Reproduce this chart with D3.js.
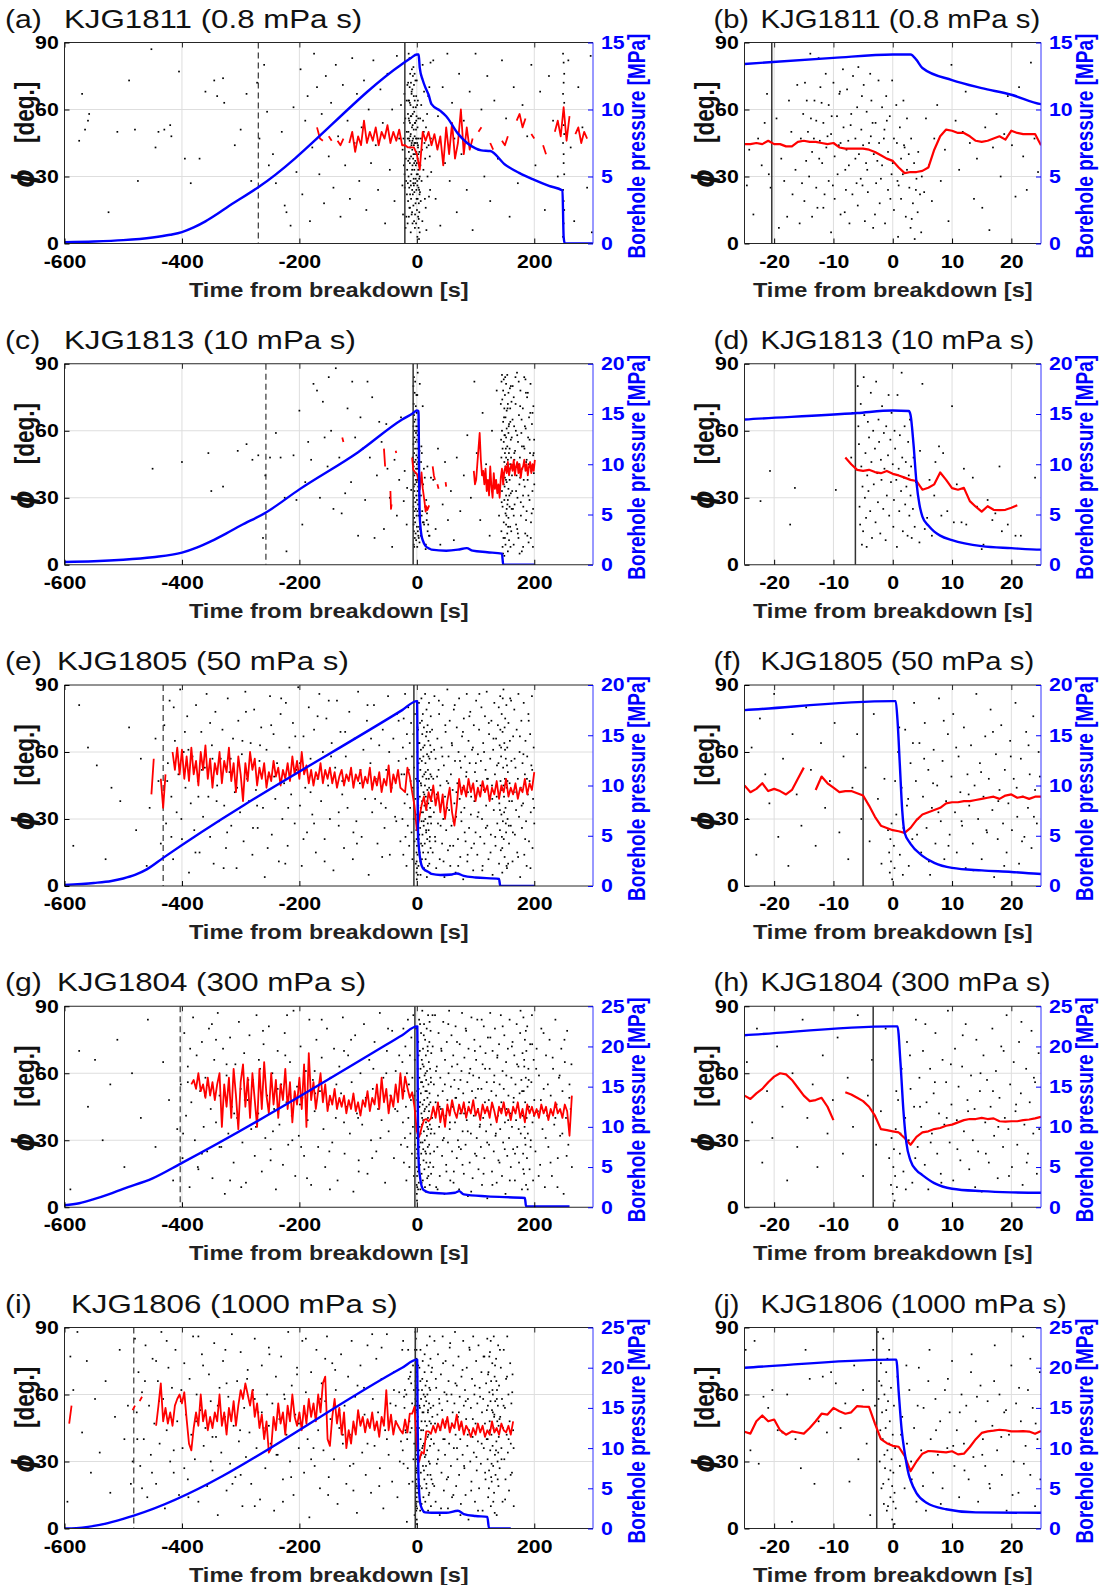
<!DOCTYPE html>
<html><head><meta charset="utf-8">
<script src="https://cdn.jsdelivr.net/npm/d3@7"></script>
<style>
body{margin:0;background:#fff}
text{font-family:"Liberation Sans",Arial,sans-serif}
</style></head><body>
<script>
// ---------- data ----------
const letters = [["a","b"],["c","d"],["e","f"],["g","h"],["i","j"]];
const wells = ["KJG1811","KJG1813","KJG1805","KJG1804","KJG1806"];
const viscosity = ["0.8","10","50","300","1000"];
const pressureMax = [15,20,20,25,25];
const breakdownLine = [-20.4,-6.3,-5,-3.3,-2.7];   // solid black line [s]
const dashedLine = [-270,-257,-432,-403,-482];     // dashed black line [s]
const longTicks = [-600,-400,-200,0,200];
const zoomTicks = [-20,-10,0,10,20];
const phiTicks = [0,30,60,90];

// borehole pressure [t, MPa]
const pressA = [[-600,0.1],[-550,0.15],[-500,0.25],[-450,0.45],[-420,0.65],[-400,0.85],[-380,1.2],[-360,1.65],[-340,2.2],[-320,2.8],[-300,3.35],[-270,4.2],[-25,13.4],[-10,13.85],[0,14.1],[3,14.1],[4,13.7],[5,13.1],[10,12.2],[15,11.6],[20,11.1],[25,10.4],[40,9.9],[50,9.5],[70,8.2],[100,7.1],[110,6.95],[125,6.9],[150,5.9],[175,5.25],[200,4.75],[225,4.3],[248,3.95],[250,0.5],[252,0],[300,0]];
const pressC = [[-600,0.28],[-550,0.35],[-500,0.5],[-450,0.75],[-400,1.2],[-375,1.7],[-350,2.35],[-325,3.1],[-300,3.9],[-257,5.2],[-200,7.5],[-100,11.2],[-25,14.45],[-6,15.1],[0,15.35],[2.7,15.3],[3,14.9],[3.5,12],[4,8.2],[4.5,6],[5,4.8],[6,3.9],[7,3.3],[8,2.9],[10,2.45],[15,1.85],[20,1.65],[25,1.5],[50,1.4],[70,1.5],[85,1.65],[95,1.4],[120,1.25],[145,1.1],[147,0.05],[150,0],[200,0]];
const pressE = [[-600,0.1],[-550,0.3],[-520,0.5],[-500,0.75],[-480,1.1],[-460,1.65],[-432,2.8],[-25,17.5],[0,18.4],[0.5,18.4],[0.8,16.5],[1.2,12],[1.6,7.5],[2,5.3],[3,4.2],[5,3.0],[7,2.3],[10,1.8],[15,1.55],[20,1.4],[25,1.2],[40,1.1],[60,1.15],[68,1.25],[80,1.0],[100,0.85],[140,0.7],[142,0],[200,0]];
const pressG = [[-600,0.25],[-575,0.5],[-550,1.0],[-525,1.6],[-500,2.3],[-450,3.6],[-403,5.4],[-25,21.4],[0,22.5],[0.8,22.5],[1.3,18],[1.8,12],[2.3,8],[3,5.8],[4,4.6],[5,4.0],[7,3.0],[10,2.3],[15,2.0],[20,1.85],[25,1.8],[50,1.7],[65,1.8],[72,2.0],[80,1.6],[120,1.35],[184,1.15],[186,0.1],[260,0.1]];
const pressI = [[-600,0],[-580,0.05],[-560,0.2],[-540,0.45],[-520,0.8],[-500,1.2],[-482,1.6],[-25,20.0],[0,21.0],[0.6,21.0],[1,17],[1.5,12.3],[2,9.5],[2.7,6.7],[3,6],[4,4.4],[5.7,3.2],[9,2.4],[14,2.0],[25,1.95],[50,1.95],[70,2.2],[80,1.8],[100,1.55],[120,1.45],[123,0],[160,0]];

// phi, long time window (left panels); A/E/G/I sampled on a fixed step
const phiLongA = [52,47,46,null,48,46,null,46,44,47, null,45,50,41,48,44,55,45,50,46, 52,44,50,47,53,45,50,46,51,44,
  44,43,43,43,40,33,50,46,50,44, 49,42,48,35,52,40,54,38,45,60, 40,52,42,47,null,50,52,null,null,45,
  42,null,null,46,44,48,null,null,55,58, 52,56,null,49,47,null,null,44,40,null, null,50,55,48,61,46,57,null,49,52, 45,50,47];
const phiLongC = [[-127,57],[-125,55],null,[-56,52],[-54,44],null,[-45,33],[-44,25],[-43,27],null,[-36,51],[-35,50],null,
  [-8,48],[-6,42.5],[-3,41.5],[0,40.7],[3,38],[5,33.6],[8,41.3],[10,34.3],[13,28.5],[15,23.8],[16,26.2],[18,24.5],[21,26.6],null,
  [27,44],[29,40],[31,38],null,[35,36],[37,34],null,[49,37],[50,35],null,
  [97,42],[99,36],[101,38],[103,45],[105,52],[107,59],[109,47],[111,40],[113,42],[115,36],[117,43],[119,33],[121,38],[123,31],[125,44],
  [127,35],[129,30],[131,41],[133,34],[135,38],[137,32],[139,36],[141,30],[143,39],[145,43],[147,36],[149,42],[151,44],[153,41],[155,46],
  [157,40],[159,43],[161,45],[163,42],[165,47],[167,40],[169,44],[171,46],[173,41],[175,45],[177,39],[179,43],[181,44],[183,47],[185,42],
  [187,45],[189,40],[191,44],[193,46],[195,41],[197,45],[199,42],[201,47]];
const phiLongE = [41,57,null,null,48,35,50,null,null,60, 52,62,50,61,48,58,47,62,50,56, 45,60,52,63,48,57,44,55,50,60,
  46,56,51,62,47,55,42,58,50,38, 55,47,60,52,57,45,53,48,55,44, 51,47,56,49,53,45,52,48,55,47,
  58,50,56,48,60,50,54,46,52,45, 51,48,55,46,52,48,53,46,51,44, 49,52,45,50,47,53,44,50,47,52,
  44,49,46,53,43,49,45,51,42,48, 45,54,42,50,46,52,44,43,42,53, 49,42,36,25,30,36,40,34,42,38,
  45,36,42,33,41,30,38,44,33,27, 36,48,41,45,40,48,42,46,38,44, 40,47,42,45,38,44,41,47,39,45,
  42,48,40,44,41,46,39,44,42,48, 41,46,43,51];
const phiLongG = [55,57,53,60,52,55,49,58,50,56, 48,55,60,36,55,45,58,40,62,50, 35,56,64,45,58,40,60,48,36,62,
  44,65,50,42,60,46,57,40,55,48, 62,44,56,38,52,46,58,44,64,36, 69,48,56,44,52,60,47,55,43,50,
  46,53,44,49,45,50,42,48,44,51, 43,47,41,48,45,52,43,49,46,55, 44,58,47,53,42,50,45,55,47,60,
  48.5,58.5,53.5,49,51.5,45,34,31.5,35.5,39, 39.5,38.5,39.8,45,40,47,38,44,36,46, 41,48,43,40,46,42,47,40,45,42,
  48,41,44,39,46,42,45,40,47,43, 38,45,42,47,41,44,39,45,42,47, 40,44,38,46,42,45,41,44,40,46,
  42,45,39,44,41,47,42,44,40,46, 43,32,50];
const phiLongI = [47,55,null,null,null,null,null,null,null,null, null,null,null,null,null,null,null,null,null,null,
  null,null,null,null,null,null,null,53,55,null, 57,59,null,null,null,null,null,46,55,65,
  48,54,47,52,46,55,58,60,56,61, 49,38,35,45,52,46,60,48,53,44, 50,45,52,48,60,46,52,42,54,48,
  57,46,55,62,58,65,60,55,62,50, 56,45,51,40,48,34,36,50,44,56, 47,52,42,55,48,60,50,46,52,44,
  55,47,58,50,56,48,60,52,65,68, 40,37,50,58,47,54,42,52,36,44, 38,48,42,53,46,50,43,49,45,52,
  44,48,41,50,46,62,44,51,42,48, 46,44,42.5,48.8,43,51.4,51.4,54.5,37,30, 34.3,33.5,43.5,43.5,42.4,46,43,47,44,49,
  45,50,43,47,45,51,44,48,42,46, 44,41,45,42,47,43,46,41,44,42, 48,43,45,42,47,44,43,46,42,48];
const phiLongStart = [-170,null,-452,-384,-592];
const phiLongStep = [5,null,4,4,4];

// phi, zoom window (right panels), 1 s steps
const phiZoomA = [44.5,44.5,45,44.5,46,44.5,44.5,43.5,43.5,45.5, 46,45.5,45.5,45,44.5,45,43,42.5,42.5,42.5,
  42.5,42,41,39.5,38,37,34,31.5,32,32, 32.5,34,42,48,51,50.5,49.5,49.5,48,46, 45.5,46,47,48,46.5,50.5,49.5,49,49,49, 44];
const phiZoomC = [48,45,42.5,42,42.5,41.5,41,42,40.7,40, 39,38,37.5,33.6,34.5,36,41.3,38,34.3,33.6, 34.4,28.5,26,23.8,26.2,24.6,24.5,24.6,25.5,26.6];
const phiZoomE = [45,42,43.5,46,42.5,43.5,42.5,41,43,48, 53,null,43,49,46,44,42,42.5,42.5,41.5,
  40.5,36,31,27,26,25,24.5,23.8,26,29.5, 32,33,34,35,37,37.5,37.5,38,38,38.5, 39,39.5,40,39,40.5,41,39.5,40,39,40, 40];
const phiZoomG = [50,48.5,51,53,56,58.5,60,59.5,57,53.5, 50,47.5,48,49,45,39,null,51.5,50.5,49,
  47.5,45,41,35,34.5,34,33.5,31,28,31.5, 33.5,34,35,35.5,36.5,37,38,39,39.5,39.5, 40,39.5,39.8,38.5,38.3,38.5,38.5,39,39.3,39.8, 40.5];
const phiZoomI = [43.3,42.5,48,50.6,48,48.8,44,42,43.5,43, 42.5,45,48,51.4,51,54,52.5,51.4,52,54.8,
  54.6,54.5,47,40,38.2,37,36.6,32.5,25.7,30, 33.5,34.7,34.5,34.3,34.1,34.6,33.2,33.5,36.5,40, 42.8,43.5,43.8,44.2,44,43.5,43.5,43.6,43.4,42.4, 43.6];
const phiZoomStart = [-25,-8,-25,-25,-25];

// event dots, flat t,phi pairs
const dotsA = [-575,46,-570,67,-565,51,-560,55,-558,58,-525,14,-510,50,-490,73,-480,51,-475,28,-452,87,-445,43,-440,50,-430,51,-420,53,-418,48,-405,77,-395,38,-385,27,-370,38,-360,68,-345,73,-340,66,-330,74,-328,63,-310,44,-300,51,-290,67,-282,28,-272,72,-268,47,-260,80,-255,59,-252,35,-245,40,-240,27,-230,50,-225,17,-222,14,-215,8,-210,61,-205,32,
  -198,78,-195,22,-190,55,-186,66,-182,10,-178,43,-175,85,-170,70,-166,31,-162,58,-158,18,-155,75,-150,39,-146,63,-142,25,-138,80,-134,48,-130,12,-126,71,-122,35,-118,55,-114,20,-110,83,-106,45,-102,67,-98,28,-94,52,-90,73,-86,15,-82,60,-78,36,-74,82,-70,44,-66,24,-62,69,-58,54,-54,9,-50,76,-46,33,-42,60,-38,19,-34,84,-30,47,-27,62,
  -24.6,26,-24.2,42,-23.5,13,-22.7,47,-22.1,35,-21.6,54,-21.2,67,-20.9,31,-20.6,25,-19.6,56,-19.2,7,-18.8,38,-18.3,28,-17.8,12,-17.5,64,-17.1,50,-16.9,22,
  -16.4,33,-16.1,71,-15.7,9,-15.5,47,-15.1,58,-14.9,19,-14.8,72,-14.3,50,-14.1,30,-13.9,85,-13.6,41,-13.6,12,-13.2,64,-12.9,55,-12.9,25,-12.5,83,-12.3,46,-12.2,70,-11.9,36,-11.7,16,-11.7,54,-11.3,76,-11.2,43,-10.8,28,-10.8,62,-10.4,5,-10.4,49,-10,72,-9.8,39,-9.8,20,-9.4,57,-9.3,31,-9,67,-8.8,45,-8.8,13,-8.4,78,-8.3,52,-7.9,24,-7.8,42,-7.7,69,-7.4,35,-7.3,9,-7,58,-6.8,22,-6.7,75,-6.3,47,-6.3,38,-6,61,-5.9,17,-5.8,79,-5.4,29,-5.3,51,-5,44,-4.9,71,-4.7,10,-4.4,59,-4.3,33,-4.2,23,-3.8,76,-3.7,48,-3.6,64,-3.3,7,-3.2,40,-2.9,54,-2.8,27,-2.4,73,-2.3,45,-2.2,18,-1.8,61,-1.8,35,-1.4,51,-1.3,9,-1.1,66,-0.8,41,-0.8,24,-0.5,57,-0.2,31,-0.1,73,0.2,15,0.2,47,0.6,62,0.8,28,0.9,3,1.2,52,1.4,38,1.4,20,1.8,64,1.9,44,2.2,12,2.4,33,2.4,56,2.8,25,3,7,3.1,47,3.4,18,3.6,36,3.7,2,4,29,4.2,14,4.3,41,4.6,22,4.8,5,4.9,30,
  -14.6,37,-13.8,56,-12.7,16,-12,63,-11,48,-10.1,26,-8.9,68,-8.1,14,-7.1,53,-5.7,40,-5.1,26,-4,45,-3,13,-2,29,-1,55,0,36,1,26,2,43,3.2,11,-15.3,27,-14.5,64,-13.3,47,-12.4,38,-11.5,22,-10.3,57,-9.1,44,-8,33,-7.5,46,-6.1,27,-5.2,66,-4.5,36,-3.4,54,-2.6,37,-1.5,47,-0.4,20,0.7,45,1.7,31,2.7,40,3.9,24,
  5.3,23,5.6,56,6.1,35,6.6,19,7,47,7.5,62,8.1,28,8.8,42,9.4,10,9.9,80,10.6,55,11.2,33,11.8,50,12.3,68,13,45,13.7,20,14.2,38,15.1,16,15.6,52,16.3,6,16.9,43,17.5,58,18.2,30,18.8,49,19.4,66,20.1,44,20.7,21,21.3,70,22,39,22.6,24,23.3,81,23.9,47,24.5,32,
  28,82,32,20,36,57,40,8,44,70,48,36,52,85,56,28,60,63,64,47,68,14,72,76,76,40,80,55,85,24,90,68,95,6,100,85,105,42,110,60,115,30,120,75,125,19,132,64,138,38,145,82,152,56,158,12,165,70,172,27,180,62,188,48,195,80,202,35,210,68,218,15,225,75,232,55,240,30,258,82,262,43,268,10,275,70,282,52,290,25,296,84,298,5,
  249,3,250,9,251,15,250,19,249,24,251,31,250,36,250,40,249,45,251,49,250,53,250,58,251,63,249,67,250,72,251,76,250,81,249,85];
const dotsC = [-450,43,-400,46,-355,50,-350,33,-330,35,-305,51,-290,54,-280,47,-270,49,-262,12,-258,40,-250,48,-240,59,-232,48,-225,30,-222,6,-210,49,-205,29,
  -200,69,-195,18,-190,37,-185,55,-180,47,-176,81,-170,78,-165,30,-160,73,-157,57,-152,44,-150,84,-146,60,-142,25,-138,88,-132,48,-128,23,-122,32,-118,70,-112,37,-110,82,-105,57,-100,13,-96,66,-92,52,-88,29,-84,82,-80,48,-76,75,-72,12,-68,40,-64,64,-60,55,-56,16,-52,63,-50,43,-46,30,-42,8,-38,47,-34,22,-30,38,-27,66,
  -22.3,28.5,-20.7,42,-17.3,18,-16.5,34.4,-9.6,33.5,-7,48,-6.8,68,
  -5.9,80,-5.8,62,-5.7,54,-5.6,26,-5.5,18,-5.4,72,-5.3,44,-5.2,9,-5.1,35,-5,15,-4.9,84,-4.8,67,-4.7,30,-4.6,50,-4.5,21,-4.4,8,-4.3,40,-4.2,64,-4.1,33,-4,57,-3.8,24,-3.7,77,-3.6,46,-3.5,12,-3.3,60,-3.2,36,-3,52,-2.9,19,-2.8,82,-2.6,41,-2.5,28,-2.4,65,-2.3,55,-2.1,14,-2,47,-1.9,38,-1.8,71,-1.6,25,-1.5,59,-1.4,43,-1.2,11,-1.1,62,-1,31,-0.8,49,-0.7,76,-0.6,22,-0.4,56,-0.3,37,-0.2,68,0,45,0.1,17,0.2,29,0.3,60,0.4,52,0.6,38,0.7,8,0.8,76,1,43,1.1,24,1.2,58,1.4,33,1.5,86,1.6,48,1.7,15,1.9,39,2,62,2.1,27,2.2,46,2.3,35,2.5,13,2.6,55,2.7,40,2.8,22,2.9,65,3,31,3.1,44,3.2,12,3.4,25,3.5,48,3.7,17,3.9,37,
  4.5,10,4.6,51,5,81,5.4,16,5.8,21,6.2,38,6.6,13,7,31,7.2,46,7.8,53,8.2,22,8.5,50,9.2,24,10,71,10.3,19,10.8,36,11.6,19,12,43,12.4,18,13.5,39,14.2,26,15,7,15.3,9,16,29,16.8,20,17.3,23,18,44,18.4,15,19.4,18,20.7,13,21.6,13,24,39,
  28,38,32,16,36,52,40,9,44,27,48,46,53,20,58,33,63,11,68,48,74,24,80,40,86,58,92,30,98,82,102,50,108,20,112,68,118,45,124,13,128,60,132,35,136,78,140,22,
  143,72,144,15,144,48,145,85,145,33,145,60,146,8,146,52,146,26,147,78,147,41,147,64,148,19,148,55,148,36,148,83,149,4,149,46,149,70,149,29,150,58,150,12,150,39,150,76,150,50,151,23,151,66,151,44,151,9,152,81,152,31,152,57,152,18,152,48,153,69,153,37,153,25,153,61,154,14,154,53,154,42,154,85,155,29,155,72,155,6,155,47,156,59,156,34,156,21,156,77,157,43,157,11,157,63,158,38,158,52,158,26,159,70,159,17,159,45,160,56,160,32,160,80,
  143.5,56,144.5,28,145.5,74,146.5,40,147.5,12,148.5,66,149.5,35,150.5,84,151.5,52,152.5,22,153.5,45,154.5,70,155.5,17,156.5,62,157.5,31,158.5,79,159.5,8,160.5,48,161.5,25,144.2,82,146.8,5,149.2,58,151.8,38,154.2,27,156.8,50,159.2,64,
  162,40,163,65,165,22,166,50,168,84,169,33,171,58,172,14,174,45,176,71,177,28,179,53,181,8,182,38,184,62,186,20,187,47,189,77,190,31,192,56,194,12,195,42,197,68,198,25,199,50,200,36,185,83,175,5,165,75,
  160.8,15,161.6,57,162.4,33,163.2,80,164.1,44,164.9,9,165.7,62,166.5,27,167.3,51,168.2,72,169,18,169.8,40,170.6,86,171.4,30,172.3,55,173.1,12,173.9,67,174.7,36,175.5,48,176.4,78,177.2,22,178,59,178.8,6,179.6,43,180.5,70,181.3,26,182.1,53,182.9,84,183.7,35,184.6,14,185.4,61,186.2,46,187,24,187.8,75,188.7,38,189.5,57,190.3,10,191.1,66,191.9,29,192.8,50,193.6,81,194.4,19,195.2,44,196,63,196.9,33,197.7,8,198.5,71,199.3,41,199.8,56,161.2,73,163.7,25,166.1,47,168.6,60,171,16,173.5,82,175.9,39,178.4,65,180.9,31,183.3,52,185.8,77,188.2,13,190.7,45,193.2,68,195.6,23,198.1,49];
const dotsE = [-585,18,-575,81,-560,62,-545,54,-530,12,-520,44,-505,38,-490,71,-478,25,-470,57,-460,9,-455,35,-445,66,-440,47,-436,19,
  -430,72,-427,28,-424,55,-421,83,-418,40,-415,12,-412,65,-409,33,-406,50,-403,88,-400,21,-397,60,-394,44,-391,76,-388,6,-385,37,-382,58,-379,25,-376,81,-373,47,-370,15,-367,69,-364,31,-361,53,-358,86,-355,40,-352,22,-349,63,-346,10,-343,78,-340,45,-337,29,-334,57,-331,70,-328,36,-325,17,-322,84,-319,51,-316,27,-313,66,-310,42,-307,8,-304,74,-301,33,-298,59,-295,20,-292,87,-289,48,-286,38,-283,64,-280,14,-277,79,-274,43,-271,26,-268,56,-265,71,-262,35,-259,4,-256,61,-253,49,-250,85,-247,23,-244,68,-241,39,-238,55,-235,11,-232,77,-229,30,-226,46,-223,82,-220,18,-217,62,-214,41,-211,73,-208,28,-205,52,-202,89,-199,36,-196,9,-193,67,-190,44,-187,24,-184,80,-181,57,-178,32,-175,70,-172,15,-169,48,-166,86,-163,38,-160,60,-157,21,-154,75,-151,45,-148,30,-145,64,-142,7,-139,53,-136,83,-133,27,-130,69,-127,41,-124,17,-121,58,-118,35,-115,78,-112,50,-109,12,-106,66,-103,29,-100,87,-97,46,-94,22,-91,61,-88,39,-85,74,-82,5,-79,55,-76,33,-73,81,-70,48,-67,19,-64,63,-61,37,-58,70,-55,26,-52,52,-49,85,-46,14,-43,44,-40,66,-37,31,-34,77,-31,56,-28,20,
  -425,47,-414,80,-401,30,-389,61,-377,15,-366,52,-352,73,-341,38,-329,8,-317,57,-306,44,-291,78,-279,26,-267,63,-254,17,-243,49,-231,84,-219,35,-207,67,-193,21,-181,42,-169,76,-157,11,-146,58,-133,33,-122,69,-108,24,-96,52,-84,81,-71,39,-59,13,-47,60,-35,29,-26,50,-418,22,-395,69,-372,40,-348,57,-323,24,-297,65,-272,36,-248,72,-224,10,-199,55,-175,28,-150,83,-127,47,-102,19,-78,66,-53,35,-31,74,
  -24.5,30,-23.8,62,-23,14,-22.4,75,-21.5,50,-20.8,37,-20,86,-19.3,22,-18.5,57,-17.6,9,-16.9,68,-16.2,41,-15.4,27,-14.6,80,-13.8,52,-13,18,-12.1,64,-11.4,35,-10.6,47,-9.8,73,-9,24,-8.3,58,-7.5,12,-6.8,44,-6,68,-5.3,30,-4.6,53,-3.9,20,-3.2,77,-2.5,39,-1.9,10,-1.4,48,-0.8,25,-0.6,15,-0.5,6,-0.4,21,-0.3,11,-0.2,28,-0.1,3,0.2,18,0.3,8,0.6,32,0.9,60,1.2,14,1.5,44,1.8,26,2.1,70,2.4,36,2.7,9,3,55,3.3,21,3.6,82,3.9,47,4.2,30,4.5,64,4.8,15,5.1,40,5.4,73,5.7,26,6,52,6.3,5,6.6,35,6.9,61,7.2,19,7.5,45,7.8,84,8.1,29,8.4,56,8.7,12,9,38,9.3,68,9.6,23,9.9,49,10.2,77,10.5,33,10.8,15,11.1,58,11.4,42,11.7,27,12,71,12.3,8,12.6,50,12.9,36,13.2,63,13.5,19,13.8,45,14.1,86,14.4,30,14.7,55,15,12,15.3,40,15.6,67,15.9,24,16.2,48,16.5,79,16.8,34,17.1,4,17.4,59,17.7,21,18,43,18.3,72,18.6,28,18.9,52,19.2,15,19.5,37,19.8,65,20.1,25,20.4,48,20.7,82,21,31,21.3,10,21.6,57,21.9,40,22.2,22,22.5,69,22.8,35,23.1,50,23.4,17,23.7,76,24,43,24.3,28,24.6,60,
  0.4,47,1.1,71,1.7,5,2.6,39,3.4,64,4.1,23,5.3,57,6.1,11,6.8,46,7.7,33,8.6,74,9.4,18,10.7,62,11.6,29,12.8,41,13.6,7,14.9,51,15.8,25,16.9,69,17.8,38,18.8,9,19.9,58,20.9,44,21.8,20,22.9,63,23.8,31,24.8,49,
  26,70,27,15,28,48,29,33,30,85,31,22,32,57,33,8,34,41,35,66,36,28,37,52,38,77,39,12,40,45,41,36,42,62,43,19,44,81,45,30,46,54,47,4,48,40,49,69,50,25,51,47,52,88,53,16,54,58,55,34,56,74,57,9,58,50,59,27,60,63,61,43,62,18,63,79,64,37,65,56,66,6,67,31,68,71,69,46,70,21,71,60,72,84,73,39,74,13,75,53,76,29,77,67,78,44,79,3,80,75,81,35,82,58,83,20,84,49,85,86,86,11,87,42,88,65,89,26,90,55,91,78,92,32,93,17,94,61,95,45,96,7,97,72,98,38,99,51,100,24,101,83,102,47,103,14,104,59,105,33,106,70,107,41,108,22,109,56,110,80,111,30,112,9,113,64,114,43,115,19,116,76,117,52,118,36,119,87,120,27,121,48,122,12,123,68,124,39,125,57,126,23,127,74,128,45,129,5,130,61,131,34,132,82,133,50,134,18,135,66,136,40,137,28,138,72,139,55,140,10,140.5,37,141,63,141.5,25,142,85,142.5,47,143,16,143.5,58,144,32,144.5,77,145,43,145.5,6,146,69,146.5,29,147,53,147.5,88,148,21,148.5,40,149,64,149.5,13,150,48,150.5,75,151,35,151.5,57,152,24,152.5,81,153,44,153.5,8,154,62,154.5,30,155,51,156,73,157,19,158,46,159,84,160,27,161,56,162,38,163,11,164,67,165,42,166,79,167,23,168,53,169,34,170,70,171,15,172,48,173,86,174,31,175,60,176,4,177,44,178,74,179,26,180,55,181,37,182,82,183,14,184,50,185,65,186,29,187,9,188,58,189,41,190,77,191,20,192,47,193,68,194,33,195,54,196,85,197,17,198,39,199,62,200,28,
  25.5,38,29.5,61,31.5,20,34.5,49,37.5,83,40.5,27,43.5,58,45.5,11,48.5,72,51.5,35,53.5,46,56.5,18,59.5,64,62.5,29,64.5,81,67.5,42,70.5,9,73.5,56,75.5,33,78.5,69,81.5,24,84.5,51,86.5,14,89.5,76,92.5,40,95.5,62,97.5,19,100.5,55,103.5,31,106.5,86,108.5,45,111.5,7,114.5,60,117.5,26,119.5,48,122.5,73,125.5,15,128.5,39,130.5,66,133.5,22,136.5,54,139.5,80,141.5,34,143.5,62,145.5,17,147.5,45,149.5,71,151.5,28,153.5,54,155.5,10,157.5,38,160.5,83,163.5,24,166.5,57,169.5,42,172.5,13,175.5,67,178.5,36,181.5,59,184.5,21,187.5,48,190.5,74,193.5,8,196.5,52,199.5,35,142.2,70,144.8,22,146.3,84,148.7,33,150.2,61,152.8,9,154.3,47,156.6,27,158.4,65];
const dotsG = [-590,8,-575,70,-560,45,-548,66,-535,30,-522,55,-510,75,-498,18,-485,60,-470,40,-458,84,-445,27,-432,65,-422,48,-415,12,-408,35,
  -402,55,-399,22,-396,78,-393,41,-390,63,-387,9,-384,47,-381,85,-378,30,-375,68,-372,17,-369,52,-366,74,-363,36,-360,58,-357,25,-354,80,-351,44,-348,13,-345,66,-342,38,-339,87,-336,50,-333,27,-330,71,-327,6,-324,59,-321,33,-318,76,-315,45,-312,20,-309,64,-306,40,-303,83,-300,53,-297,29,-294,69,-291,11,-288,48,-285,77,-282,35,-279,57,-276,23,-273,86,-270,42,-267,62,-264,16,-261,73,-258,31,-255,50,-252,81,-249,26,-246,60,-243,44,-240,8,-237,70,-234,37,-231,55,-228,19,-225,78,-222,47,-219,28,-216,65,-213,41,-210,88,-207,14,-204,54,-201,32,-198,72,-195,49,-192,23,-189,61,-186,39,-183,84,-180,10,-177,57,-174,43,-171,75,-168,27,-165,52,-162,67,-159,35,-156,18,-153,80,-150,46,-147,58,-144,29,-141,71,-138,40,-135,12,-132,63,-129,51,-126,85,-123,24,-120,45,-117,68,-114,33,-111,56,-108,7,-105,77,-102,42,-99,21,-96,60,-93,37,-90,82,-87,48,-84,15,-81,66,-78,30,-75,53,-72,74,-69,25,-66,44,-63,87,-60,39,-57,58,-54,11,-51,70,-48,34,-45,50,-42,79,-39,22,-36,61,-33,43,-30,68,-27,28,
  -398,33,-386,71,-373,18,-361,50,-349,82,-336,27,-324,64,-311,42,-299,9,-287,57,-274,36,-262,79,-249,21,-237,53,-224,68,-212,30,-199,46,-187,13,-174,61,-162,84,-149,25,-137,55,-124,38,-112,75,-99,16,-87,49,-74,62,-62,31,-49,80,-37,44,-28,58,-390,56,-366,24,-342,75,-318,12,-293,48,-269,66,-245,34,-221,86,-197,27,-173,51,-148,8,-124,70,-100,40,-76,22,-52,60,
  -24.6,65,-23.7,38,-22.9,80,-22,20,-21.2,52,-20.3,31,-19.5,72,-18.6,45,-17.8,12,-16.9,60,-16.1,27,-15.2,84,-14.4,40,-13.5,55,-12.7,18,-11.8,68,-11,33,-10.1,48,-9.3,76,-8.4,24,-7.6,58,-6.7,36,-5.9,86,-5,14,-4.2,50,-3.5,66,-2.8,28,-2,43,-1.2,80,-0.6,22,-0.3,10,-0.2,31,0,6,0.1,18,0.2,26,0.3,3,0.4,14,0.5,35,0.7,9,0.9,48,1.2,24,1.5,62,1.8,16,2.1,40,2.4,74,2.7,30,3,53,3.3,11,3.6,45,3.9,84,4.2,27,4.5,58,4.8,36,5.1,70,5.4,19,5.7,47,6,8,6.3,62,6.6,33,6.9,51,7.2,78,7.5,24,7.8,42,8.1,15,8.4,66,8.7,37,9,56,9.3,88,9.6,29,9.9,46,10.2,12,10.5,71,10.8,39,11.1,54,11.4,21,11.7,63,12,34,12.3,82,12.6,48,12.9,17,13.2,59,13.5,30,13.8,44,14.1,75,14.4,25,14.7,52,15,7,15.3,68,15.6,38,15.9,57,16.2,20,16.5,45,16.8,80,17.1,32,17.4,61,17.7,13,18,49,18.3,72,18.6,27,18.9,40,19.2,86,19.5,35,19.8,55,20.1,18,20.4,65,20.7,43,21,28,21.3,74,21.6,51,21.9,10,22.2,37,22.5,62,22.8,24,23.1,47,23.4,79,23.7,33,24,56,24.3,15,24.6,69,
  0.6,52,1.3,33,2.2,8,2.9,68,3.8,22,4.6,45,5.5,82,6.4,29,7.1,56,8.2,11,9.1,40,9.8,64,10.9,26,11.8,77,12.7,43,13.9,9,14.8,60,15.7,24,16.9,52,17.8,36,18.7,70,19.6,14,20.8,46,21.7,83,22.6,20,23.8,58,24.7,35,
  26,40,27,72,28,18,29,55,30,33,31,86,32,47,33,9,34,63,35,27,36,50,37,78,38,36,39,14,40,58,41,44,42,70,43,23,44,52,45,83,46,31,47,6,48,66,49,41,50,19,51,74,52,48,53,29,54,60,55,88,56,35,57,12,58,54,59,77,60,25,61,45,62,68,63,16,64,57,65,38,66,81,67,49,68,22,69,64,70,30,71,53,72,8,73,73,74,42,75,26,76,61,77,87,78,34,79,51,80,15,81,67,82,44,83,28,84,79,85,39,86,56,87,5,88,71,89,47,90,20,91,62,92,33,93,85,94,52,95,13,96,59,97,41,98,75,99,24,100,49,101,66,102,31,103,84,104,44,105,17,106,58,107,36,108,72,109,27,110,53,111,10,112,64,113,40,114,81,115,22,116,47,117,69,118,34,119,56,120,4,121,76,122,43,123,28,124,62,125,87,126,37,127,52,128,16,129,70,130,45,131,25,132,59,133,80,134,32,135,50,136,11,137,67,138,41,139,21,140,73,141,55,142,35,143,86,144,47,145,14,146,61,147,29,148,53,149,77,150,38,151,6,152,65,153,44,154,23,155,71,156,50,157,31,158,84,159,42,160,18,161,58,162,36,163,74,164,26,165,49,166,68,167,12,168,55,169,39,170,82,171,27,172,46,173,63,174,20,175,51,176,78,177,33,178,57,179,8,180,69,180.5,41,181,24,181.5,85,182,52,182.5,15,183,63,183.5,36,184,75,184.5,47,185,28,185.5,58,186,10,186.5,70,187,40,187.5,22,188,81,188.5,54,189,33,190,62,191,45,192,17,193,73,194,30,195,56,196,86,197,38,198,12,199,66,200,48,202,25,204,71,206,43,208,59,210,19,212,80,214,35,216,53,218,9,220,68,222,41,224,27,226,75,228,50,230,14,232,62,234,37,236,84,238,46,240,22,242,58,244,32,246,71,248,52,250,6,252,65,254,40,256,79,258,28,260,55,262,44,264,18,
  26.7,86,29.4,25,32.6,61,35.3,8,38.8,45,41.5,71,44.2,30,47.7,55,50.4,16,53.6,82,56.3,38,59.8,63,62.5,11,65.7,49,68.4,74,71.6,27,74.3,57,77.8,19,80.5,42,83.2,80,86.7,34,89.4,60,92.6,7,95.3,46,98.8,70,101.5,23,104.2,53,107.7,37,110.4,84,113.6,15,116.3,62,119.8,29,122.5,48,125.2,76,128.7,10,131.4,56,134.6,33,137.3,68,140.8,20,143.5,44,146.2,81,149.7,26,152.4,59,155.6,39,158.3,12,161.8,72,164.5,47,167.2,24,170.7,64,173.4,35,176.6,88,179.3,52,181.2,17,182.8,66,184.2,31,185.6,79,187.2,44,188.8,8,190.5,57,193.7,27,196.4,73,199.6,41,203.3,62,207.5,14,211.2,48,215.8,78,219.4,31,223.1,55,227.7,20,231.3,67,235.9,40,239.5,9,243.2,59,247.8,33,251.4,75,255.1,23,259.7,49,263.3,64];
const dotsI = [-595,12,-590,77,-585,62,-578,88,-570,43,-562,75,-555,25,-548,58,-540,34,-530,66,-522,16,-514,50,-506,80,-498,40,-492,55,-487,20,-484,30,
  -480,85,-477,52,-474,70,-471,28,-468,61,-465,40,-462,82,-459,14,-456,55,-453,33,-450,76,-447,47,-444,20,-441,66,-438,38,-435,88,-432,58,-429,9,-426,44,-423,72,-420,30,-417,63,-414,25,-411,80,-408,48,-405,15,-402,57,-399,36,-396,74,-393,51,-390,22,-387,67,-384,42,-381,86,-378,31,-375,60,-372,12,-369,53,-366,78,-363,37,-360,45,-357,19,-354,69,-351,57,-348,26,-345,83,-342,41,-339,6,-336,63,-333,34,-330,75,-327,50,-324,17,-321,59,-318,29,-315,87,-312,46,-309,23,-306,66,-303,39,-300,79,-297,10,-294,54,-291,32,-288,71,-285,43,-282,20,-279,62,-276,85,-273,36,-270,52,-267,13,-264,73,-261,45,-258,27,-255,60,-252,81,-249,38,-246,56,-243,8,-240,68,-237,33,-234,49,-231,77,-228,22,-225,58,-222,42,-219,88,-216,30,-213,64,-210,15,-207,51,-204,72,-201,36,-198,47,-195,84,-192,25,-189,61,-186,40,-183,5,-180,70,-177,54,-174,28,-171,80,-168,44,-165,18,-162,65,-159,35,-156,57,-153,86,-150,23,-147,49,-144,74,-141,31,-138,62,-135,11,-132,45,-129,78,-126,38,-123,55,-120,20,-117,68,-114,42,-111,84,-108,29,-105,59,-102,7,-99,50,-96,73,-93,34,-90,63,-87,24,-84,82,-81,46,-78,16,-75,58,-72,37,-69,76,-66,52,-63,27,-60,67,-57,9,-54,44,-51,87,-48,33,-45,56,-42,21,-39,70,-36,48,-33,14,-30,61,-27,39,
  -476,40,-463,66,-451,25,-439,57,-426,84,-414,35,-401,62,-389,14,-376,48,-364,73,-351,30,-339,55,-326,80,-314,20,-301,44,-289,67,-276,10,-264,52,-251,78,-239,33,-226,60,-214,23,-201,47,-189,85,-176,36,-164,58,-151,15,-139,71,-126,42,-114,28,-101,64,-89,51,-76,87,-64,19,-51,40,-39,62,-29,30,-468,18,-444,75,-420,50,-396,27,-372,86,-348,41,-324,65,-300,24,-276,58,-252,46,-228,12,-204,69,-180,31,-156,76,-132,53,-108,17,-84,38,-60,81,-36,55,
  -24.8,80,-24,35,-23.3,84,-22.6,29,-21.8,59,-21,54,-20.3,62,-19.4,44,-18.6,43,-17.8,60,-17,3,-16.4,40,-15.5,27,-14.7,80,-14,67,-13.2,20,-12.5,48,-11.8,68,-11.1,43,-10.4,70,-9.6,65,-8.8,45,-8,56,-7.3,21,-6.5,73,-5.8,31,-5,62,-4.4,38,-3.8,6,-3.3,80,-3,55,
  -2.5,88,-2.3,66,-2.2,30,-2,74,-1.9,18,-1.8,52,-1.7,40,-1.6,85,-1.5,11,-1.4,60,-1.3,27,-1.2,45,-1.1,70,-1,8,-0.9,35,-0.8,57,-0.7,22,-0.6,80,-0.5,48,-0.4,14,-0.3,63,-0.2,31,-0.1,4,0,42,0.1,25,0.2,55,0.3,16,0.4,36,0.5,9,-1.9,64,-1.4,33,-0.9,76,-0.4,26,0.1,12,-2.1,44,-1.6,20,-1.1,53,-0.6,38,-0.1,19,0.3,2,-2.4,58,-0.8,10,
  0.8,68,1.2,28,1.6,50,2,18,2.4,38,2.8,62,3.2,22,3.6,45,4,12,4.4,72,4.8,35,5.2,54,5.6,8,6,66,6.4,40,6.8,25,7.2,58,7.6,33,8,48,8.4,18,8.8,62,9.2,36,9.6,52,10,75,10.4,28,10.8,44,11.2,14,11.6,60,12,38,12.4,55,12.8,22,13.2,70,13.6,32,14,48,14.4,12,14.8,64,15.2,40,15.6,28,16,57,16.4,18,16.8,46,17.2,82,17.6,35,18,60,18.4,24,18.8,52,19.2,8,19.6,42,20,73,20.4,30,20.8,56,21.2,16,21.6,48,22,86,22.4,37,22.8,62,23.2,24,23.6,54,24,10,24.4,40,24.8,70,
  1.4,42,2.3,73,3.1,30,4.2,55,5.1,19,6.2,80,7.3,44,8.1,11,9.3,67,10.2,37,11.3,52,12.1,26,13.3,78,14.2,59,15.1,33,16.3,20,17.1,66,18.3,41,19.1,53,20.2,15,21.3,63,22.1,29,23.2,76,24.1,47,24.9,22,
  26,72,27,20,28,55,29,38,30,84,31,47,32,12,33,63,34,29,35,51,36,78,37,35,38,58,39,6,40,44,41,69,42,25,43,53,44,86,45,40,46,17,47,61,48,33,49,75,50,48,51,22,52,57,53,9,54,66,55,38,56,81,57,45,58,28,59,60,60,14,61,52,62,73,63,36,64,56,65,88,66,42,67,19,68,64,69,31,70,50,71,77,72,24,73,59,74,40,75,11,76,68,77,46,78,33,79,84,80,55,81,27,82,62,83,15,84,49,85,72,86,37,87,58,88,4,89,44,90,80,91,30,92,54,93,21,94,67,95,41,96,86,97,34,98,60,99,12,100,47,101,75,102,26,103,56,104,39,105,82,106,18,107,63,108,44,109,29,110,70,111,52,112,8,113,58,114,36,115,77,116,47,117,22,118,65,119,40,120,85,120.5,31,121,55,121.5,14,122,70,122.5,43,123,26,123.5,61,124,48,124.5,79,125,35,125.5,57,126,10,126.5,66,127,42,127.5,21,128,53,128.5,74,129,37,129.5,60,130,28,130.5,45,131,86,131.5,16,132,51,132.5,68,133,33,133.5,57,134,24,134.5,44,135,76,135.5,39,136,6,136.5,62,137,48,137.5,30,138,55,138.5,82,139,19,139.5,41,140,64,141,27,142,50,143,72,144,36,145,58,146,12,147,45,148,80,149,31,150,54,151,22,152,67,153,42,154,86,155,34,156,60,157,17,158,48,159,74,160,38,161,56,162,25,163,69,164,44,165,10,
  26.4,50,29.6,19,32.3,67,35.8,31,38.5,56,41.2,9,44.7,74,47.4,40,50.6,60,53.3,23,56.8,83,59.5,47,62.2,15,65.7,65,68.4,36,71.6,52,74.3,6,77.8,71,80.5,28,83.2,57,86.7,42,89.4,81,92.6,17,95.3,49,98.8,64,101.5,32,104.2,8,107.7,59,110.4,38,113.6,77,116.3,25,119.2,53,121.3,69,122.7,18,124.2,44,125.8,84,127.3,29,128.8,62,130.2,12,131.7,50,133.2,73,134.8,35,136.2,58,137.7,22,139.2,46,141.5,80,144.2,31,147.7,55,150.4,13,153.6,68,156.3,40,159.8,24,162.5,61,164.8,36,120.6,40,123.4,77,126.6,23,129.4,52,132.6,7,135.4,66,138.6,34,140.8,49];

const pressure = [pressA,pressC,pressE,pressG,pressI];
const phiLongRaw = [phiLongA,phiLongC,phiLongE,phiLongG,phiLongI];
const phiZoom = [phiZoomA,phiZoomC,phiZoomE,phiZoomG,phiZoomI];
const dots = [dotsA,dotsC,dotsE,dotsG,dotsI];

// ---------- drawing ----------
const STRETCH = 1.15, VSTRETCH = 1.25;
const BLUE = "#0000ff", RED = "#ff0000", INK = "#262626", GRID = "#dedede";
const TOP0 = 42.5, ROW = 321.25, PLOT_H = 201;
const titleLeftX = [64, 64, 57, 57, 71];   // where the left-panel title text starts
const svg = d3.select("body").append("svg").attr("width",1100).attr("height",1585).style("display","block");

function toPairs(flat){ const out=[]; for(let i=0;i<flat.length;i+=2) out.push([flat[i],flat[i+1]]); return out; }
function stepped(vals,t0,dt){ return vals.map((v,i)=>[t0+i*dt, v]); }

function drawPanel(k, zoom){
  const left = zoom ? 744.5 : 64.5, right = zoom ? 1041 : 593;
  const top = TOP0 + k*ROW, bottom = top + PLOT_H, mid = (top+bottom)/2;
  const x = d3.scaleLinear(zoom ? [-25,25] : [-600,300], [left,right]);
  const y = d3.scaleLinear([0,90],[bottom,top]);
  const yp = d3.scaleLinear([0,pressureMax[k]],[bottom,top]);
  const xt = zoom ? zoomTicks : longTicks;
  const g = svg.append("g");
  const clipId = `clip-${k}-${zoom?1:0}`;
  g.append("clipPath").attr("id",clipId).append("rect")
    .attr("x",left).attr("y",top).attr("width",right-left).attr("height",bottom-top);

  // grid
  g.selectAll(".gx").data(xt).join("line").attr("class","gx")
    .attr("x1",d=>x(d)).attr("x2",d=>x(d)).attr("y1",top).attr("y2",bottom)
    .attr("stroke",GRID);
  g.selectAll(".gy").data([30,60]).join("line").attr("class","gy")
    .attr("x1",left).attr("x2",right).attr("y1",d=>y(d)).attr("y2",d=>y(d))
    .attr("stroke",GRID);

  const plot = g.append("g").attr("clip-path",`url(#${clipId})`);

  // event dots
  let pts = toPairs(dots[k]);
  if (zoom) pts = pts.filter(d => d[0] >= -25 && d[0] <= 25);
  plot.selectAll(".dot").data(pts).join("rect").attr("class","dot")
    .attr("x",d=>x(d[0])-0.85).attr("y",d=>y(d[1])-0.85)
    .attr("width",1.7).attr("height",1.7).attr("fill","#000");

  // vertical markers
  if (!zoom) {
    plot.append("line").attr("x1",x(dashedLine[k])).attr("x2",x(dashedLine[k]))
      .attr("y1",top).attr("y2",bottom).attr("stroke","#222").attr("stroke-width",1.1)
      .attr("stroke-dasharray","6,4");
  }
  plot.append("line").attr("x1",x(breakdownLine[k])).attr("x2",x(breakdownLine[k]))
    .attr("y1",top).attr("y2",bottom).attr("stroke","#333").attr("stroke-width",1.5);

  // phi (red)
  let red;
  if (zoom) red = stepped(phiZoom[k], phiZoomStart[k], 1);
  else if (phiLongStart[k] === null) red = phiLongRaw[k];
  else red = stepped(phiLongRaw[k], phiLongStart[k], phiLongStep[k]);
  plot.append("path").datum(red)
    .attr("d", d3.line().defined(d => d && d[1] != null).x(d=>x(d[0])).y(d=>y(d[1])))
    .attr("fill","none").attr("stroke",RED).attr("stroke-width", zoom ? 2.2 : 1.8)
    .attr("stroke-linejoin","round");

  // borehole pressure (blue)
  plot.append("path").datum(pressure[k])
    .attr("d", d3.line().curve(d3.curveMonotoneX).x(d=>x(d[0])).y(d=>yp(d[1])))
    .attr("fill","none").attr("stroke",BLUE).attr("stroke-width",2.4)
    .attr("stroke-linejoin","round");

  // frame
  g.append("line").attr("x1",left).attr("x2",right).attr("y1",top).attr("y2",top).attr("stroke",INK);
  g.append("line").attr("x1",left).attr("x2",right).attr("y1",bottom).attr("y2",bottom).attr("stroke",INK);
  g.append("line").attr("x1",left).attr("x2",left).attr("y1",top).attr("y2",bottom).attr("stroke",INK);
  g.append("line").attr("x1",right).attr("x2",right).attr("y1",top).attr("y2",bottom).attr("stroke","#3333ff");

  const styleAxis = (sel, color) => {
    sel.select(".domain").remove();
    sel.attr("font-family","'Liberation Sans', Arial, sans-serif").attr("font-size",18.5).attr("font-weight","bold");
    sel.selectAll("line").attr("stroke",color);
    sel.selectAll("text").attr("fill",color).attr("transform",`scale(${STRETCH},1)`);
  };
  const fmt = d => String(d);
  g.append("g").attr("transform",`translate(0,${bottom})`)
    .call(d3.axisBottom(x).tickValues(xt).tickSize(-5).tickPadding(11).tickFormat(fmt))
    .call(s => styleAxis(s, "#000"));
  g.append("g").attr("transform",`translate(0,${top})`)
    .call(d3.axisTop(x).tickValues(xt).tickSize(-5).tickFormat(""))
    .call(s => styleAxis(s, INK));
  g.append("g").attr("transform",`translate(${left},0)`)
    .call(d3.axisLeft(y).tickValues(phiTicks).tickSize(-5).tickPadding(5).tickFormat(fmt))
    .call(s => styleAxis(s, "#000"));
  g.append("g").attr("transform",`translate(${right},0)`)
    .call(d3.axisRight(yp).tickValues(d3.range(0, pressureMax[k]+1, 5)).tickSize(-5).tickPadding(7).tickFormat(fmt))
    .call(s => styleAxis(s, BLUE));

  // titles
  const letter = letters[k][zoom?1:0];
  const tSize = zoom ? 25.5 : 26.5;
  const lx = zoom ? left-31 : 5, tx = zoom ? left+16 : titleLeftX[k];
  g.append("text").attr("transform",`translate(${lx},${top-15}) scale(1.14,1)`)
    .attr("font-size",tSize).attr("fill","#111").text(`(${letter})`);
  g.append("text").attr("transform",`translate(${tx},${top-15}) scale(${zoom ? 1.15 : 1.18},1)`)
    .attr("font-size",tSize).attr("fill","#111").text(`${wells[k]} (${viscosity[k]} mPa s)`);

  // axis labels
  g.append("text").attr("transform",`translate(${(left+right)/2},${bottom+53}) scale(${STRETCH},1)`)
    .attr("text-anchor","middle").attr("font-size",20.5).attr("font-weight","bold").attr("fill","#222")
    .text("Time from breakdown [s]");
  const yl = g.append("text").attr("transform",`translate(${left-40},${mid+45}) scale(${VSTRETCH},1) rotate(-90)`)
    .attr("text-anchor","start").attr("dy","0.35em").attr("font-size",22.5).attr("font-weight","bold").attr("fill","#111");
  yl.append("tspan").attr("font-family","'DejaVu Sans', sans-serif").attr("font-style","italic").attr("font-size",24).text("\u03D5");
  yl.append("tspan").attr("dx",26).text("[deg.]");
  g.append("text").attr("transform",`translate(${right+44},${mid+3}) scale(${VSTRETCH},1) rotate(-90)`)
    .attr("text-anchor","middle").attr("dy","0.35em").attr("font-size",19).attr("font-weight","bold").attr("fill",BLUE)
    .text("Borehole pressure [MPa]");
}

for (let k = 0; k < 5; k++) { drawPanel(k, false); drawPanel(k, true); }
</script>
</body></html>
